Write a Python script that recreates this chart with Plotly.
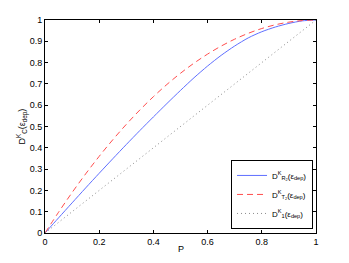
import plotly.graph_objects as go

P = [0.0, 0.05, 0.1, 0.15, 0.2, 0.25, 0.3, 0.35, 0.4, 0.45, 0.5,
     0.55, 0.6, 0.65, 0.7, 0.75, 0.8, 0.85, 0.9, 0.95, 1.0]
D_R2 = [0.0, 0.071, 0.1415, 0.2115, 0.2805, 0.3485, 0.4155, 0.481, 0.545, 0.608, 0.6695,
        0.729, 0.784, 0.834, 0.878, 0.916, 0.945, 0.967, 0.984, 0.996, 1.0]
D_T2 = [0.0, 0.0975, 0.19, 0.2775, 0.36, 0.4375, 0.51, 0.5775, 0.64, 0.6975, 0.75,
        0.7975, 0.84, 0.8775, 0.91, 0.9375, 0.96, 0.9775, 0.99, 0.9975, 1.0]
D_1 = [0.0, 0.05, 0.1, 0.15, 0.2, 0.25, 0.3, 0.35, 0.4, 0.45, 0.5,
       0.55, 0.6, 0.65, 0.7, 0.75, 0.8, 0.85, 0.9, 0.95, 1.0]

names = ["D<sup>K</sup><sub>R<sub>2</sub></sub>(ε<sub>dep</sub>)",
         "D<sup>K</sup><sub>T<sub>2</sub></sub>(ε<sub>dep</sub>)",
         "D<sup>K</sup><sub>1</sub>(ε<sub>dep</sub>)"]
x_title = "P"
y_title = "D<sup>K</sup><sub>C</sub>(ε<sub>dep</sub>)"
x_ticks = [0, 0.2, 0.4, 0.6, 0.8, 1]
x_labels = ["0", "0.2", "0.4", "0.6", "0.8", "1"]
y_ticks = [0, 0.1, 0.2, 0.3, 0.4, 0.5, 0.6, 0.7, 0.8, 0.9, 1]
y_labels = ["0", "0.1", "0.2", "0.3", "0.4", "0.5", "0.6", "0.7", "0.8", "0.9", "1"]

fig = go.Figure()
fig.add_trace(go.Scatter(x=P, y=D_R2, mode="lines", name=names[0],
                         line=dict(color="#5f6fff", width=1, shape="spline", smoothing=0.8)))
fig.add_trace(go.Scatter(x=P, y=D_T2, mode="lines", name=names[1],
                         line=dict(color="#ff4d4d", width=1, dash="6px,4px", shape="spline")))
fig.add_trace(go.Scatter(x=P, y=D_1, mode="lines", name=names[2],
                         line=dict(color="#8a8a8a", width=1, dash="1px,3px")))

axis_common = dict(showgrid=False, zeroline=False, showline=True, linecolor="black",
                   linewidth=1, mirror="ticks", ticks="inside", ticklen=3,
                   tickcolor="black", tickfont=dict(size=9, color="black"),
                   automargin=False)
fig.update_xaxes(range=[0, 1], tickvals=x_ticks, ticktext=x_labels, **axis_common)
fig.update_yaxes(range=[0, 1], tickvals=y_ticks, ticktext=y_labels, **axis_common)

fig.add_annotation(text=x_title, xref="paper", yref="paper", x=0.5, y=-0.075,
                   xanchor="center", yanchor="middle", showarrow=False,
                   font=dict(size=9, color="black"))
fig.add_annotation(text=y_title, xref="paper", yref="paper", x=-0.085, y=0.5,
                   xanchor="center", yanchor="middle", showarrow=False, textangle=-90,
                   font=dict(size=9, color="black"))

# page body has an 8px margin: figure offset compensated in the margins
fig.update_layout(
    width=341, height=255,
    margin=dict(l=37, r=33, t=12, b=30, autoexpand=False),
    paper_bgcolor="white", plot_bgcolor="white",
    font=dict(family="Liberation Sans, Arial, sans-serif", size=9, color="black"),
    legend=dict(x=0.989, xanchor="right", y=0.019, yanchor="bottom",
                bgcolor="white", bordercolor="black", borderwidth=1,
                font=dict(size=8), itemwidth=30, tracegroupgap=0),
    showlegend=True,
)

fig.write_html("out.html")
